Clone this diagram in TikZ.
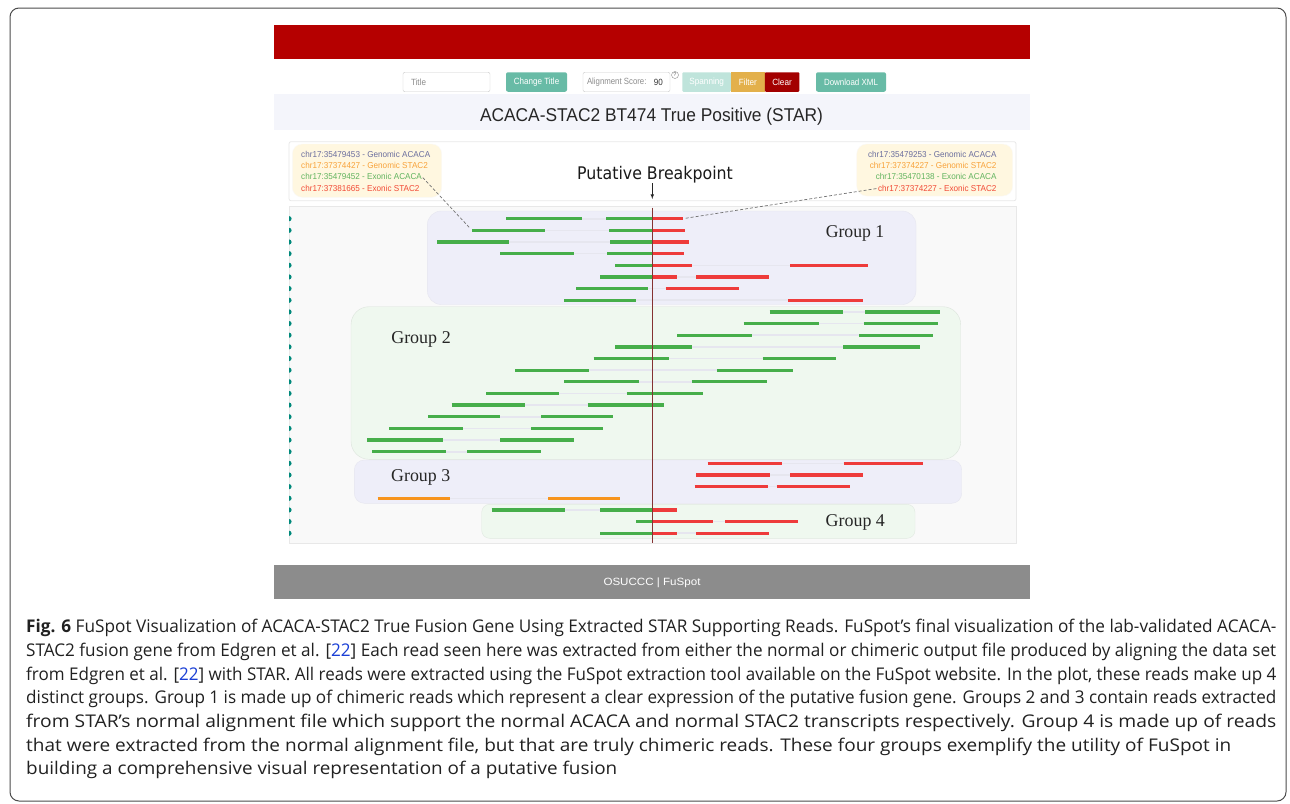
\documentclass[tikz,border=0pt]{standalone}
\usepackage{fontspec}
\usepackage{graphicx}
\setmainfont{Liberation Sans}
\newfontfamily\appfont{Liberation Sans}
\newfontfamily\bpfont{DejaVu Sans}
\newfontfamily\grpfont{Liberation Serif}
\newfontfamily\capfont{Open Sans}
\usetikzlibrary{arrows,calc}
\usetikzlibrary{positioning}

\definecolor{hdrred}{HTML}{B50000}
\definecolor{btnteal}{HTML}{68BBA6}
\definecolor{btnpale}{HTML}{BFE4DB}
\definecolor{btngold}{HTML}{E3B04B}
\definecolor{btnclear}{HTML}{A30000}
\definecolor{titleband}{HTML}{F4F5FB}
\definecolor{legfill}{HTML}{FFF7E0}
\definecolor{legslate}{HTML}{6B6E9E}
\definecolor{legorange}{HTML}{F8A23A}
\definecolor{leggreen}{HTML}{62B45F}
\definecolor{legred}{HTML}{F24A35}
\definecolor{plotbg}{HTML}{F9F9F9}
\definecolor{grplav}{HTML}{EEEEF9}
\definecolor{grpgreen}{HTML}{EFF8EF}
\definecolor{readgreen}{HTML}{46AE4A}
\definecolor{readred}{HTML}{EE3B3B}
\definecolor{readorange}{HTML}{F7941D}
\definecolor{faint}{HTML}{E6E6EF}
\definecolor{bpline}{HTML}{853232}
\definecolor{dotteal}{HTML}{00897B}
\definecolor{footgray}{HTML}{8C8C8C}
\definecolor{linkblue}{HTML}{1A3FD6}

% stretch a text to a measured width, keeping its height
\newcommand{\fitw}[2]{\resizebox{#1}{\height}{#2}}

\tikzset{
  bar/.style={minimum width=756pt,minimum height=34pt,inner sep=0pt},
  btn/.style={fill=btnteal,rounded corners=2pt,minimum height=19.5pt,inner sep=0pt,text=white,font=\appfont\fontsize{9}{10}\selectfont},
  field/.style={draw=black!20,fill=white,rounded corners=2pt,minimum height=19.5pt,inner sep=0pt},
  fieldtxt/.style={inner sep=0pt,anchor=west,text=black!45,font=\appfont\fontsize{9}{10}\selectfont},
  legbox/.style={fill=legfill,draw=legfill!80!black!10,rounded corners=10pt},
  legtxt/.style={inner sep=0pt,font=\appfont\fontsize{8.6}{10}\selectfont},
  panel/.style={draw=black!9,line width=0.8pt},
  grptxt/.style={inner sep=0pt,anchor=base,text=black!85,font=\grpfont\fontsize{18}{20}\selectfont},
  readbar/.style={line width=3.3pt},
  readlink/.style={faint,line width=1.6pt},
  hint/.style={densely dashed,black!55,line width=0.7pt},
  capline/.style={inner sep=0pt,anchor=base west,text=black!87,font=\capfont\fontsize{17.5}{20}\selectfont},
}

\begin{document}
\begin{tikzpicture}[x=1pt,y=-1pt]
  \useasboundingbox (0,0) rectangle (1290,803);
  \fill[white] (0,0) rectangle (1290,803);
  \draw[black!70,line width=1pt,rounded corners=9pt] (10,8) rectangle (1286,801);

  % app header and toolbar
  \node[bar,fill=hdrred] (header) at (652,42) {};
  \node[field,minimum width=87pt] (titlefield) at (446.5,82) {};
  \node[fieldtxt] (titlehint) at ([xshift=8pt]titlefield.west) {\fitw{15pt}{Title}};
  \node[btn,minimum width=61pt] (changetitle) at (536.5,82) {\fitw{45.5pt}{Change Title}};
  \node[field,minimum width=87pt] (scorefield) at (626.5,82) {};
  \node[fieldtxt] (scorehint) at ([xshift=4pt]scorefield.west) {\fitw{59.5pt}{Alignment Score:}};
  \node[fieldtxt,text=black!80,right=7pt of scorehint] (scoreval) {\fitw{9pt}{90}};
  \node[draw=black!45,circle,inner sep=0pt,minimum size=7pt,font=\appfont\fontsize{5.5}{6}\selectfont,text=black!60] (help) at (675,75) {?};
  \node[btn,fill=btnpale,minimum width=48.5pt,rounded corners=1pt] (spanning) at (706.7,82) {\fitw{34.5pt}{Spanning}};
  \node[btn,fill=btngold,minimum width=34pt,rounded corners=0pt] (filter) at (747.9,82) {\fitw{18pt}{Filter}};
  \node[btn,fill=btnclear,minimum width=34.5pt,rounded corners=1pt] (clear) at (782,82) {\fitw{19.5pt}{Clear}};
  \node[btn,minimum width=70pt] (download) at (851,82) {\fitw{54pt}{Download XML}};

  \node[bar,fill=titleband,minimum height=36pt] (titleband) at (652,112) {};
  \node[inner sep=0pt,anchor=base,text=black!85,font=\appfont\fontsize{18.5}{20}\selectfont] (plottitle) at (651.5,121.5) {\fitw{343pt}{ACACA-STAC2 BT474 True Positive (STAR)}};

  % legend panel
  \draw[panel,fill=white,rounded corners=2pt] (289,141.7) rectangle (1016,200.7);
  \draw[legbox] (292.3,144) rectangle (441.7,197.3);
  \draw[legbox] (856.7,144) rectangle (1012.7,196);
  \node[legtxt,anchor=base west,text=legslate] (legA1) at (301,157.4) {\fitw{129pt}{chr17:35479453 - Genomic ACACA}};
  \node[legtxt,anchor=base west,text=legorange] (legA2) at (301,168.8) {\fitw{126.7pt}{chr17:37374427 - Genomic STAC2}};
  \node[legtxt,anchor=base west,text=leggreen] (legA3) at (301,179.9) {\fitw{120.7pt}{chr17:35479452 - Exonic ACACA}};
  \node[legtxt,anchor=base west,text=legred] (legA4) at (301,191.4) {\fitw{118.3pt}{chr17:37381665 - Exonic STAC2}};
  \node[legtxt,anchor=base east,text=legslate] (legB1) at (996.7,157.4) {\fitw{128.4pt}{chr17:35479253 - Genomic ACACA}};
  \node[legtxt,anchor=base east,text=legorange] (legB2) at (996.7,168.8) {\fitw{126.7pt}{chr17:37374227 - Genomic STAC2}};
  \node[legtxt,anchor=base east,text=leggreen] (legB3) at (996.7,179.9) {\fitw{120.7pt}{chr17:35470138 - Exonic ACACA}};
  \node[legtxt,anchor=base east,text=legred] (legB4) at (996.7,191.4) {\fitw{118.4pt}{chr17:37374227 - Exonic STAC2}};
  \node[inner sep=0pt,anchor=base,text=black!90,font=\bpfont\fontsize{17.4}{20}\selectfont] (bptext) at (655,179.3) {\fitw{155.7pt}{Putative Breakpoint}};
  \coordinate (bptip) at (652.3,199);
  \draw[-latex,black!85,line width=0.6pt] (bptext.south -| bptip) -- (bptip);

  % plot panel and groups
  \draw[panel,fill=plotbg] (289,206.7) rectangle (1016,543.3);
  \draw[fill=grplav,draw=faint,rounded corners=14pt] (427.3,211) rectangle (916,304.5);
  \draw[fill=grpgreen,draw=grpgreen!92!black,rounded corners=18pt] (351,306.7) rectangle (960.7,459.3);
  \draw[fill=grplav,draw=faint,rounded corners=10pt] (354.3,460) rectangle (961.7,503.3);
  \draw[fill=grpgreen,draw=grpgreen!94!black,rounded corners=8pt] (481.7,504.3) rectangle (915,538.3);

  % faint links under each read
  \foreach \r/\a/\b in {0/506/683,1/472/685,2/437/689,3/500/684,4/615/868,5/600/769,6/576/739,7/564/863,
      8/770/940,9/744/938,10/677/933,11/615/920,12/594/836,13/515/793,14/564/767,15/486/703,16/452/664,
      17/428/613,18/389/603,19/367/574,20/372/541,21/708/923,22/696/863,23/695/850,24/378/620,
      25/492/677,26/636/798,27/600/769}
    \draw[readlink] (\a,{218.7+11.65*\r}) -- (\b,{218.7+11.65*\r});

  % read segments
  \foreach \r/\a/\b/\c in {0/506.3/581.7/readgreen,0/606.3/652.3/readgreen,0/652.3/682.7/readred,
      1/472/545/readgreen,1/609.3/652.3/readgreen,1/652.3/685.3/readred,
      2/437/509/readgreen,2/610.3/652.3/readgreen,2/652.3/688.7/readred,
      3/500.3/574.3/readgreen,3/607.3/652.3/readgreen,3/652.3/683.7/readred,
      4/615/652.3/readgreen,4/652.3/691.7/readred,4/790/867.7/readred,
      5/600.3/652.3/readgreen,5/652.3/677/readred,5/696/769.3/readred,
      6/576/648/readgreen,6/665.7/739.3/readred,
      7/564.3/636.3/readgreen,7/788.3/863.3/readred,
      8/769.7/843.3/readgreen,8/865/940.3/readgreen,
      9/743.7/819/readgreen,9/863.7/937.7/readgreen,
      10/677.3/752/readgreen,10/859/932.7/readgreen,
      11/615/691.7/readgreen,11/843.3/920/readgreen,
      12/593.7/669.3/readgreen,12/762.7/835.7/readgreen,
      13/515/588.7/readgreen,13/717/792.7/readgreen,
      14/564.3/639.3/readgreen,14/691.7/766.7/readgreen,
      15/486/559.3/readgreen,15/626.7/703.3/readgreen,
      16/451.7/525.3/readgreen,16/587.7/663.7/readgreen,
      17/428.3/500.3/readgreen,17/541.3/613/readgreen,
      18/389.3/463/readgreen,18/531.3/603/readgreen,
      19/367.3/442.7/readgreen,19/500.3/574/readgreen,
      20/372/445.7/readgreen,20/467.3/541/readgreen,
      21/707.7/782.3/readred,21/843.7/923/readred,
      22/696/770.3/readred,22/790/863.3/readred,
      23/694.7/768.3/readred,23/776.7/850.3/readred,
      24/377.7/449.7/readorange,24/548.3/620.3/readorange,
      25/491.7/565.3/readgreen,25/600.3/652.3/readgreen,25/652.3/677/readred,
      26/636.3/652.3/readgreen,26/652.3/713/readred,26/725/798.3/readred,
      27/600.3/652.3/readgreen,27/652.3/677/readred,27/696/769.3/readred}
    \draw[readbar,draw=\c] (\a,{218.7+11.65*\r}) -- (\b,{218.7+11.65*\r});

  % breakpoint line and row markers
  \draw[bpline,line width=1pt] (652.3,207.5) -- (652.3,543.3);
  \foreach \r in {0,...,27}
    \fill[dotteal] (289,{216.1+11.65*\r}) arc[start angle=-90,end angle=90,radius=2.6] -- cycle;

  \node[grptxt] (group1) at (855,237) {\fitw{58.5pt}{Group 1}};
  \node[grptxt] (group2) at (421,343.3) {\fitw{59.5pt}{Group 2}};
  \node[grptxt] (group3) at (420.7,481.7) {\fitw{59pt}{Group 3}};
  \node[grptxt] (group4) at (855.3,526) {\fitw{59.3pt}{Group 4}};

  % legend hints to reads
  \coordinate (readA) at (472,230.3);
  \coordinate (readB) at (682.7,218.7);
  \draw[hint,shorten <=1pt,shorten >=4pt] (legA3.east) -- (readA);
  \draw[hint,shorten <=1.5pt,shorten >=2pt] (legB4.west) -- (readB);

  % footer
  \node[bar,fill=footgray] (footer) at (652,582) {};
  \node[inner sep=0pt,text=white,font=\appfont\fontsize{10.5}{12}\selectfont] (footertxt) at (652,582.5) {\fitw{97pt}{OSUCCC | FuSpot}};

  % caption
  \node[capline] (cap1) at (26,632.7) {\fitw{1250pt}{\textbf{Fig. 6} FuSpot Visualization of ACACA-STAC2 True Fusion Gene Using Extracted STAR Supporting Reads. FuSpot’s final visualization of the lab-validated ACACA-}};
  \node[capline] (cap2) at (26,656.4) {\fitw{1250pt}{STAC2 fusion gene from Edgren et al. [\textcolor{linkblue}{22}] Each read seen here was extracted from either the normal or chimeric output file produced by aligning the data set}};
  \node[capline] (cap3) at (26,680.1) {\fitw{1250pt}{from Edgren et al. [\textcolor{linkblue}{22}] with STAR. All reads were extracted using the FuSpot extraction tool available on the FuSpot website. In the plot, these reads make up 4}};
  \node[capline] (cap4) at (26,703.8) {\fitw{1250pt}{distinct groups. Group 1 is made up of chimeric reads which represent a clear expression of the putative fusion gene. Groups 2 and 3 contain reads extracted}};
  \node[capline] (cap5) at (26,727.5) {\fitw{1250pt}{from STAR’s normal alignment file which support the normal ACACA and normal STAC2 transcripts respectively. Group 4 is made up of reads}};
  \node[capline] (cap6) at (26,751.2) {\fitw{1205pt}{that were extracted from the normal alignment file, but that are truly chimeric reads. These four groups exemplify the utility of FuSpot in}};
  \node[capline] (cap7) at (26,774.9) {\fitw{591pt}{building a comprehensive visual representation of a putative fusion}};
\end{tikzpicture}
\end{document}
